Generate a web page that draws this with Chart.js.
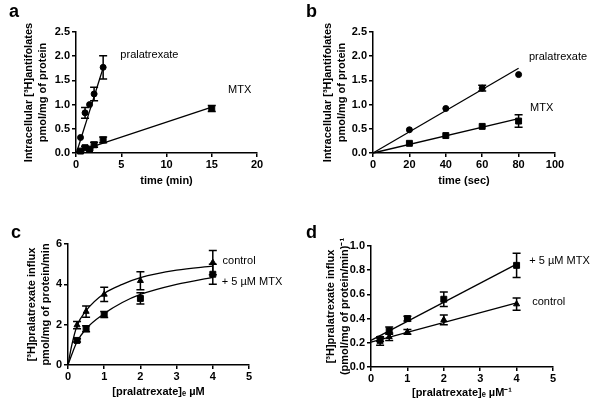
<!DOCTYPE html>
<html><head><meta charset="utf-8">
<script src="https://cdn.jsdelivr.net/npm/chart.js@4.4.0/dist/chart.umd.min.js"></script>
<style>
html,body{margin:0;padding:0;background:#fff;}
#wrap{position:relative;width:601px;height:411px;overflow:hidden;background:#fff;}
canvas{position:absolute;}
</style></head><body>
<div id="wrap">
<canvas id="ca" width="300" height="200" style="left:0px;top:0px"></canvas>
<canvas id="cb" width="301" height="200" style="left:300px;top:0px"></canvas>
<canvas id="cc" width="300" height="211" style="left:0px;top:200px"></canvas>
<canvas id="cd" width="301" height="211" style="left:300px;top:200px"></canvas>
</div>
<script>
// ---------- Panel a: uptake over minutes ----------
const aPralaX   = [0.5, 1, 1.5, 2, 3];
const aPralaY   = [0.32, 0.83, 1.0, 1.22, 1.77];
const aPralaErr = [0, 0.11, 0, 0.14, 0.24];
const aMtxX     = [0.5, 1, 1.5, 2, 3, 15];
const aMtxY     = [0.04, 0.11, 0.08, 0.17, 0.27, 0.92];
const aMtxErr   = [0.02, 0.03, 0.02, 0.05, 0.06, 0.06];
const aPralaFitX = [0.05, 3.1];
const aPralaFitY = [0, 1.82];
const aMtxFitX   = [0, 15];
const aMtxFitY   = [0.02, 0.95];

// ---------- Panel b: uptake over seconds ----------
const bPralaX   = [20, 40, 60, 80];
const bPralaY   = [0.48, 0.92, 1.34, 1.62];
const bPralaErr = [0, 0, 0.06, 0];
const bMtxX     = [20, 40, 60, 80];
const bMtxY     = [0.2, 0.36, 0.55, 0.66];
const bMtxErr   = [0, 0, 0, 0.13];
const bPralaFitX = [0, 80];
const bPralaFitY = [0, 1.75];
const bMtxFitX   = [0, 80];
const bMtxFitY   = [0, 0.71];

// ---------- Panel c: influx vs concentration ----------
const cX        = [0.25, 0.5, 1, 2, 4];
const cCtrlY    = [1.98, 2.65, 3.5, 4.18, 5.08];
const cCtrlErr  = [0.18, 0.28, 0.35, 0.45, 0.6];
const cMtxY     = [1.22, 1.8, 2.5, 3.3, 4.5];
const cMtxErr   = [0.08, 0.15, 0.15, 0.28, 0.5];
const cCurveX   = [0, 0.1, 0.25, 0.5, 1, 1.5, 2, 3, 4];
const cCtrlCurve = [0, 0.95, 1.95, 2.7, 3.55, 4.0, 4.33, 4.7, 4.9];
const cMtxCurve  = [0, 0.5, 1.15, 1.8, 2.55, 3.1, 3.5, 4.0, 4.35];

// ---------- Panel d: reciprocal plot ----------
const dX        = [0.25, 0.5, 1, 2, 4];
const dCtrlY    = [0.21, 0.25, 0.29, 0.39, 0.52];
const dCtrlErr  = [0.03, 0.03, 0.02, 0.04, 0.05];
const dMtxY     = [0.23, 0.30, 0.40, 0.56, 0.84];
const dMtxErr   = [0.02, 0.03, 0.02, 0.06, 0.1];
const dFitX     = [0, 4];
const dCtrlFitY = [0.205, 0.53];
const dMtxFitY  = [0.22, 0.85];

// ---------- text ----------
const aTitleY = ['Intracellular [\u00B3H]antifolates', 'pmol/mg of protein'];
const aTitleX = 'time (min)';
const bTitleX = 'time (sec)';
const cTitleY = ['[\u00B3H]pralatrexate influx', 'pmol/mg of protein/min'];
const cTitleX = '[pralatrexate]\u2091 \u00B5M';
const dTitleY = ['[\u00B3H]pralatrexate influx', '(pmol/mg of protein/min)\u207B\u00B9'];
const dTitleX = '[pralatrexate]\u2091 \u00B5M\u207B\u00B9';
const aNotes = [{text:'pralatrexate', x:4.9, y:2.02}, {text:'MTX', x:16.8, y:1.30}];
const bNotes = [{text:'pralatrexate', x:85.7, y:1.98}, {text:'MTX', x:86.3, y:0.93}];
const cNotes = [{text:'control', x:4.27, y:5.15}, {text:'+ 5 \u00B5M MTX', x:4.25, y:4.11}];
const dNotes = [{text:'+ 5 \u00B5M MTX', x:4.35, y:0.878}, {text:'control', x:4.43, y:0.537}];

const FONT = "'Liberation Sans', Arial, Helvetica, sans-serif";

function pts(xs, ys) { return xs.map((x, i) => ({x: x, y: ys[i]})); }

const errPlugin = {
  id: 'errbars',
  afterDatasetsDraw(chart) {
    const ctx = chart.ctx, xs = chart.scales.x, ys = chart.scales.y;
    chart.data.datasets.forEach(ds => {
      if (!ds.errors) return;
      ctx.save(); ctx.strokeStyle = '#000'; ctx.lineWidth = 1.5;
      ds.data.forEach((p, j) => {
        const e = ds.errors[j]; if (!e) return;
        const px = xs.getPixelForValue(p.x);
        const y1 = ys.getPixelForValue(p.y + e), y2 = ys.getPixelForValue(p.y - e);
        ctx.beginPath();
        ctx.moveTo(px, y1); ctx.lineTo(px, y2);
        ctx.moveTo(px - 4, y1); ctx.lineTo(px + 4, y1);
        ctx.moveTo(px - 4, y2); ctx.lineTo(px + 4, y2);
        ctx.stroke();
      });
      ctx.restore();
    });
  }
};

const notePlugin = {
  id: 'notes',
  afterDraw(chart, args, opts) {
    const ctx = chart.ctx, xs = chart.scales.x, ys = chart.scales.y;
    ctx.save();
    ctx.fillStyle = '#000';
    ctx.textBaseline = 'middle'; ctx.textAlign = 'left';
    ctx.font = '11px ' + FONT;
    (opts.items || []).forEach(n => {
      ctx.fillText(n.text, xs.getPixelForValue(n.x), ys.getPixelForValue(n.y));
    });
    if (opts.letter) {
      ctx.font = 'bold 18px ' + FONT;
      ctx.textAlign = 'left';
      ctx.fillText(opts.letter, opts.lx, opts.ly);
    }
    ctx.restore();
  }
};

function lineDs(xs, ys, tension) {
  return {data: pts(xs, ys), showLine: true, pointRadius: 0, borderColor: '#000',
          borderWidth: 1.3, tension: tension || 0, cubicInterpolationMode: tension ? 'monotone' : 'default', clip: false};
}
function markDs(xs, ys, errs, style, r) {
  return {data: pts(xs, ys), showLine: false, pointStyle: style, pointRadius: r,
          backgroundColor: '#000', borderColor: '#000', borderWidth: 1, errors: errs, clip: false};
}

function makeChart(id, cfg) {
  const tickFont = {family: FONT, size: 11, weight: 'bold'};
  const titleFont = {family: FONT, size: 11, weight: 'bold', lineHeight: 1.25};
  new Chart(document.getElementById(id), {
    type: 'scatter',
    data: {datasets: cfg.datasets},
    plugins: [errPlugin, notePlugin],
    options: {
      responsive: false, animation: false, devicePixelRatio: 1,
      layout: {padding: {left: 0, top: cfg.top, right: cfg.right, bottom: 0}},
      plugins: {legend: {display: false}, tooltip: {enabled: false},
                notes: {items: cfg.notes, letter: cfg.letter, lx: cfg.lx, ly: cfg.ly}},
      scales: {
        x: {
          type: 'linear', min: cfg.xmin, max: cfg.xmax,
          afterFit: s => { s.height = cfg.xh; },
          ticks: {stepSize: cfg.xstep, font: tickFont, color: '#000', padding: 1,
                  callback: v => String(v)},
          grid: {drawOnChartArea: false, drawTicks: true, tickLength: 4, color: '#000', lineWidth: 1.5},
          border: {display: true, color: '#000', width: 1.5},
          title: {display: true, text: cfg.xtitle, font: titleFont, color: '#000', padding: {top: 0, bottom: cfg.xtpad}}
        },
        y: {
          type: 'linear', min: cfg.ymin, max: cfg.ymax,
          afterFit: s => { s.width = cfg.yw; },
          ticks: {stepSize: cfg.ystep, font: tickFont, color: '#000', padding: 2,
                  callback: v => v.toFixed(cfg.ydec)},
          grid: {drawOnChartArea: false, drawTicks: true, tickLength: 4, color: '#000', lineWidth: 1.5},
          border: {display: true, color: '#000', width: 1.5},
          title: {display: true, text: cfg.ytitle, font: titleFont, color: '#000', padding: {top: cfg.ytpad, bottom: 0}}
        }
      }
    }
  });
}

makeChart('ca', {
  datasets: [
    lineDs(aPralaFitX, aPralaFitY), lineDs(aMtxFitX, aMtxFitY),
    markDs(aPralaX, aPralaY, aPralaErr, 'circle', 3),
    markDs(aMtxX, aMtxY, aMtxErr, 'rect', 4.2)
  ],
  top: 32, right: 43, xh: 47, yw: 76,
  xmin: 0, xmax: 20, xstep: 5, ymin: 0, ymax: 2.5, ystep: 0.5, ydec: 1,
  xtitle: aTitleX, ytitle: aTitleY, xtpad: 12, ytpad: 22,
  notes: aNotes, letter: 'a', lx: 9, ly: 12
});

makeChart('cb', {
  datasets: [
    lineDs(bPralaFitX, bPralaFitY), lineDs(bMtxFitX, bMtxFitY),
    markDs(bPralaX, bPralaY, bPralaErr, 'circle', 3),
    markDs(bMtxX, bMtxY, bMtxErr, 'rect', 4.2)
  ],
  top: 32, right: 46, xh: 47, yw: 73,
  xmin: 0, xmax: 100, xstep: 20, ymin: 0, ymax: 2.5, ystep: 0.5, ydec: 1,
  xtitle: bTitleX, ytitle: aTitleY, xtpad: 12, ytpad: 21,
  notes: bNotes, letter: 'b', lx: 6, ly: 12
});

makeChart('cc', {
  datasets: [
    lineDs(cCurveX, cCtrlCurve, 0.4), lineDs(cCurveX, cMtxCurve, 0.4),
    markDs(cX, cCtrlY, cCtrlErr, 'triangle', 3.5),
    markDs(cX, cMtxY, cMtxErr, 'rect', 4.2)
  ],
  top: 44, right: 51, xh: 46, yw: 68,
  xmin: 0, xmax: 5, xstep: 1, ymin: 0, ymax: 6, ystep: 2, ydec: 0,
  xtitle: cTitleX, ytitle: cTitleY, xtpad: 12, ytpad: 25,
  notes: cNotes, letter: 'c', lx: 11, ly: 33
});

makeChart('cd', {
  datasets: [
    lineDs(dFitX, dCtrlFitY), lineDs(dFitX, dMtxFitY),
    markDs(dX, dCtrlY, dCtrlErr, 'triangle', 3.5),
    markDs(dX, dMtxY, dMtxErr, 'rect', 4.2)
  ],
  top: 46, right: 48, xh: 44, yw: 71,
  xmin: 0, xmax: 5, xstep: 1, ymin: 0, ymax: 1.0, ystep: 0.2, ydec: 1,
  xtitle: dTitleX, ytitle: dTitleY, xtpad: 11, ytpad: 24,
  notes: dNotes, letter: 'd', lx: 6, ly: 33
});
</script>
</body></html>
